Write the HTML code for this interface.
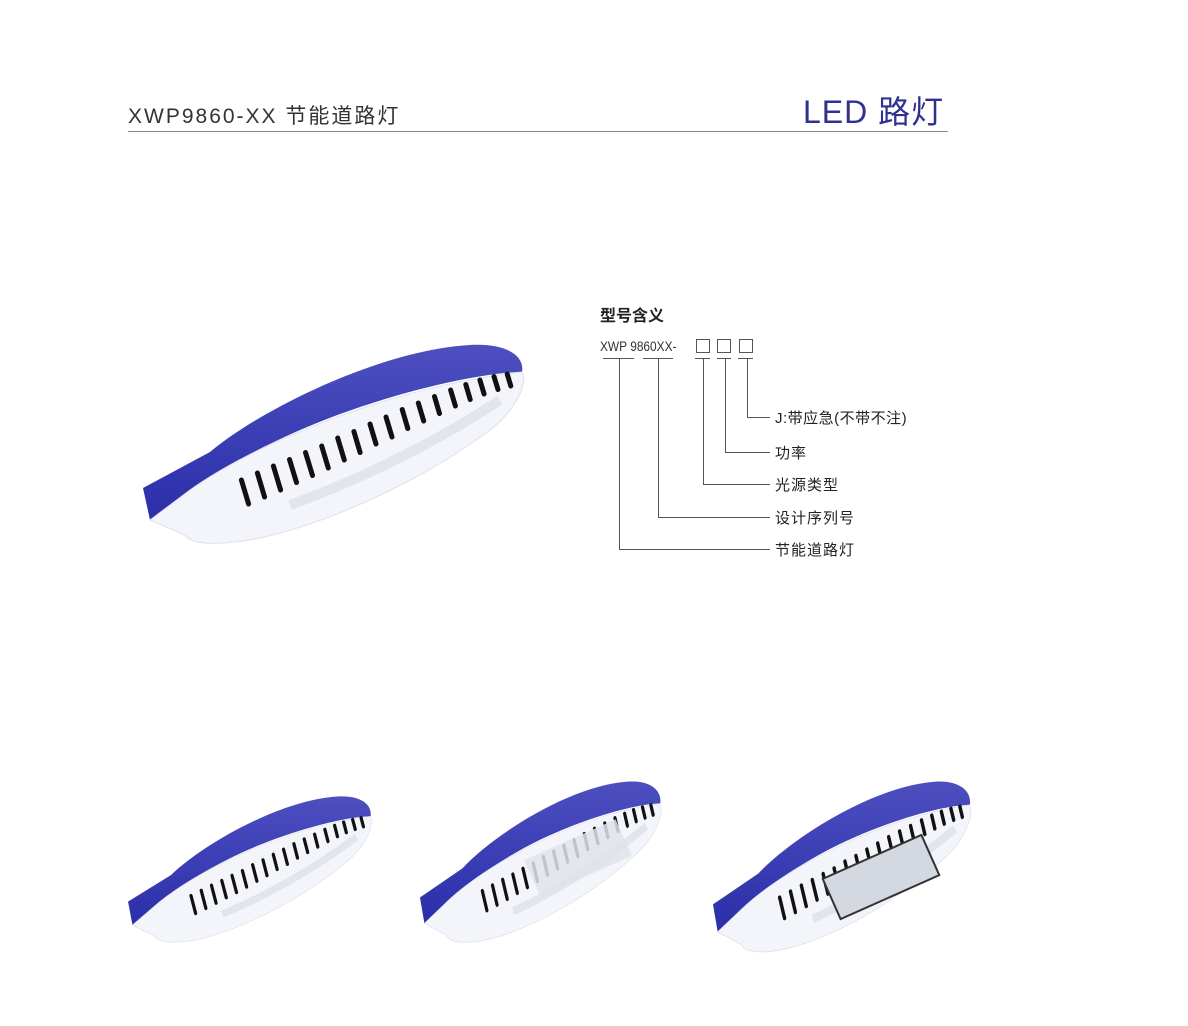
<!DOCTYPE html>
<html><head><meta charset="utf-8"><style>
html,body{margin:0;padding:0;background:#fff;}
body{width:1188px;height:1026px;position:relative;overflow:hidden;font-family:"Liberation Sans","Noto Sans CJK SC",sans-serif;}
.t{position:absolute;white-space:nowrap;}
</style></head><body>
<div class="t" style="left:128px;top:100px;font-size:21px;color:#333;letter-spacing:2px;">XWP9860-XX 节能道路灯</div>
<div class="t" style="left:803px;top:94px;font-size:32px;color:#2e3192;letter-spacing:1px;line-height:36px;">LED 路灯</div>
<div style="position:absolute;left:128px;top:131px;width:820px;height:1px;background:#888;"></div>

<div class="t" style="left:600px;top:302px;font-size:16px;font-weight:bold;color:#222;">型号含义</div>
<div class="t" style="left:600px;top:338px;font-size:14px;color:#333;transform:scaleX(0.85);transform-origin:0 0;">XWP 9860XX-</div>

<svg width="1188" height="1026" style="position:absolute;left:0;top:0" xmlns="http://www.w3.org/2000/svg">
<defs>
<linearGradient id="bl" x1="0" y1="0" x2="0" y2="1"><stop offset="0" stop-color="#4d4fc0"/><stop offset="1" stop-color="#2a2ea8"/></linearGradient>
<g id="lamp">
<path d="M143,488 L210,452 C260,410 380,350 470,345 C505,343 525,355 522,372 C480,372 380,395 300,430 C250,452 210,475 190,490 L150,520 Z" fill="url(#bl)"/>
<path d="M150,520 L190,490 C260,440 400,385 522,372 C528,385 515,410 490,430 C430,475 340,520 260,538 C220,546 190,545 185,535 Z" fill="#f3f5fa" stroke="#dde1ea" stroke-width="1"/>
<path d="M290,505 C360,480 440,440 500,400" fill="none" stroke="#d6dbe6" stroke-width="10" opacity="0.6"/>
<path stroke="#111" stroke-width="5" stroke-linecap="round" fill="none" d="M241.4,480L248.6,504M257.4,473L264.6,497M273.4,466L280.6,490M289.5,459.5L296.5,482.5M305.5,452.5L312.5,475.5M321.7,446L328.3,468M337.7,438L344.3,460M353.9,431.5L360.1,452.5M370,424L376,444M386,417L392,437M402.2,409.5L407.8,428.5M418.3,403L423.7,421M434.5,396.5L439.5,413.5M450.6,390L455.4,406M465.8,384.5L470.2,399.5M479.9,380L484.1,394M494,376.5L498,389.5M507.2,374L510.8,386"/>
</g>
</defs>
<use href="#lamp"/>
<use href="#lamp" transform="translate(36.5,542.9) scale(0.64,0.735)"/>
<use href="#lamp" transform="translate(329.3,502.2) scale(0.634,0.81)"/>
<rect x="528" y="838" width="100" height="40" fill="#dfe3ea" transform="rotate(-24 578 858)" opacity="0.85"/>
<use href="#lamp" transform="translate(616,485.7) scale(0.678,0.858)"/>
<rect x="827" y="855" width="108" height="44" fill="#d4d8e0" stroke="#333" stroke-width="2" transform="rotate(-24 881 877)"/>

<g fill="none" stroke="#555" stroke-width="1">
<rect x="696.5" y="339.5" width="13" height="13"/>
<rect x="717.5" y="339.5" width="13" height="13"/>
<rect x="739.5" y="339.5" width="13" height="13"/>
<path d="M603,358.5H634M643,358.5H673M695,358.5H710M717,358.5H731M738,358.5H753"/>
<path d="M619.5,358V549.5H770M658.5,358V517.5H770M703.5,358V484.5H770M725.5,358V452.5H770M747.5,358V417.5H770"/>
</g>
</svg>
<div class="t" style="left:775px;top:407px;font-size:15px;color:#222;letter-spacing:0.5px;">J:带应急(不带不注)</div>
<div class="t" style="left:775px;top:442px;font-size:15px;color:#222;letter-spacing:1px;">功率</div>
<div class="t" style="left:775px;top:474px;font-size:15px;color:#222;letter-spacing:1px;">光源类型</div>
<div class="t" style="left:775px;top:507px;font-size:15px;color:#222;letter-spacing:1px;">设计序列号</div>
<div class="t" style="left:775px;top:539px;font-size:15px;color:#222;letter-spacing:1px;">节能道路灯</div>
</body></html>
